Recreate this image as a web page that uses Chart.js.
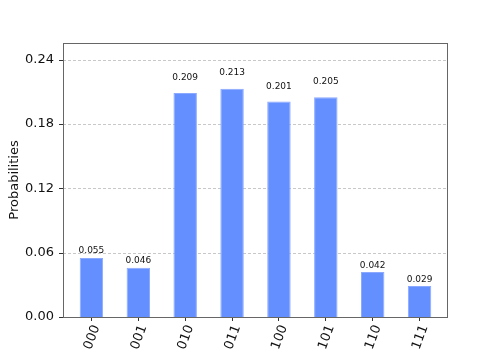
<!DOCTYPE html>
<html>
<head>
<meta charset="utf-8">
<script src="https://cdn.jsdelivr.net/npm/chart.js@4/dist/chart.umd.min.js"></script>
<style>
  html, body { margin: 0; padding: 0; background: #fff; }
  #wrap { width: 498px; height: 356px; }
</style>
</head>
<body>
<div id="wrap"><canvas id="hist"></canvas></div>
<script>
const estados = ['000', '001', '010', '011', '100', '101', '110', '111'];
const probs = [0.055, 0.046, 0.209, 0.213, 0.201, 0.205, 0.042, 0.029];
const yTicks = [0, 0.06, 0.12, 0.18, 0.24];
const yMax = 0.2556;

// margem horizontal do eixo (matplotlib deixa um pouco mais de espaco que o chart.js)
const folga = 5;

// valores em cima das barras (a 1.05 * altura, como no matplotlib)
const rotulos = {
    id: 'rotulos',
    afterDatasetsDraw(chart) {
        const ctx = chart.ctx,
            y = chart.scales.y;
        ctx.save();
        ctx.font = '9px "DejaVu Sans"';
        ctx.fillStyle = '#111';
        ctx.textAlign = 'center';
        ctx.textBaseline = 'bottom';
        chart.getDatasetMeta(0).data.forEach((bar, i) => {
            ctx.fillText(probs[i].toFixed(3), bar.x, y.getPixelForValue(probs[i] * 1.05));
        });
        ctx.restore();
    }
};

// grade tracejada, marcas do eixo y e moldura
const moldura = {
    id: 'moldura',
    beforeDatasetsDraw(chart) {
        const a = chart.chartArea, ctx = chart.ctx, y = chart.scales.y;
        ctx.save();
        ctx.strokeStyle = '#c8c8c8';
        ctx.lineWidth = 1;
        ctx.setLineDash([3, 2]);
        yTicks.forEach(v => {
            if (v === 0) return;
            const py = Math.round(y.getPixelForValue(v)) + 0.5;
            ctx.beginPath();
            ctx.moveTo(a.left - folga, py);
            ctx.lineTo(a.right + folga, py);
            ctx.stroke();
        });
        ctx.restore();
    },
    afterDraw(chart) {
        const a = chart.chartArea, ctx = chart.ctx, y = chart.scales.y;
        ctx.save();
        ctx.strokeStyle = '#666';
        ctx.lineWidth = 1;
        ctx.strokeRect(a.left - folga + 0.5, a.top + 0.5, a.right - a.left + 2 * folga - 1, a.bottom - a.top);
        ctx.strokeStyle = '#333';
        yTicks.forEach(v => {
            const py = Math.round(y.getPixelForValue(v)) + 0.5;
            ctx.beginPath();
            ctx.moveTo(a.left - folga - 4, py);
            ctx.lineTo(a.left - folga, py);
            ctx.stroke();
        });
        ctx.restore();
    }
};

new Chart(document.getElementById('hist'), {
    type: 'bar',
    data: {
        labels: estados,
        datasets: [{
            data: probs,
            backgroundColor: '#648fff',
            borderColor: '#8aa9ff',
            borderWidth: 1,
            barPercentage: 0.5,
            categoryPercentage: 1,
        }]
    },
    options: {
        responsive: true,
        maintainAspectRatio: false,
        animation: false,
        layout: { padding: { left: 0, right: 50 + folga, top: 43, bottom: 0 } },
        plugins: { legend: { display: false }, tooltip: { enabled: false } },
        scales: {
            x: {
                grid: { display: true, offset: false, drawOnChartArea: false, drawTicks: true, tickLength: 4, tickColor: '#333' },
                border: { display: false },
                ticks: {
                    minRotation: 70, maxRotation: 70,
                    color: '#111',
                    font: { family: 'DejaVu Sans', size: 13 },
                    padding: 2,
                    labelOffset: 5,
                },
                afterFit: s => { s.height = 39; },
            },
            y: {
                min: 0,
                max: yMax,
                afterBuildTicks: s => { s.ticks = yTicks.map(v => ({ value: v })); },
                grid: { display: false, drawTicks: false, tickLength: 0 },
                border: { display: false },
                ticks: {
                    color: '#111',
                    font: { family: 'DejaVu Sans', size: 13 },
                    padding: 9 + folga,
                    callback: v => Number(v).toFixed(2),
                },
                title: {
                    display: true,
                    text: 'Probabilities',
                    color: '#111',
                    font: { family: 'DejaVu Sans', size: 13 },
                    padding: { top: 7, bottom: 0 },
                },
                afterFit: s => { s.width = 63 + folga; },
            }
        }
    },
    plugins: [rotulos, moldura]
});
</script>
</body>
</html>
